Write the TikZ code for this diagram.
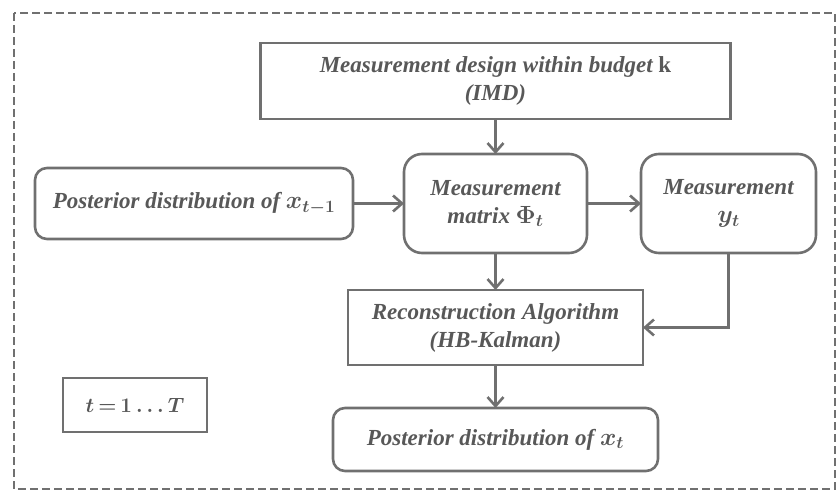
\documentclass[tikz,border=0pt]{standalone}
\usepackage{fontspec}
\setmainfont{Liberation Serif}
\usetikzlibrary{arrows.meta,positioning}
\definecolor{linegray}{RGB}{112,112,112}
\definecolor{textgray}{RGB}{88,88,88}

\begin{document}
\begin{tikzpicture}[x=1pt,y=-1pt]

\tikzset{block/.style={draw=linegray,line width=2.6pt,text=textgray,align=center,inner sep=0pt,outer sep=0pt,font=\fontsize{23}{28}\selectfont\bfseries\itshape\boldmath},
softblock/.style={block,rounded corners=12pt},
bigsoft/.style={block,rounded corners=18pt},
flow/.style={-{Straight Barb[length=9pt,width=16pt]},draw=linegray,line width=2.6pt},
frame/.style={draw=linegray,line width=1.6pt,dash pattern=on 8pt off 4pt}}

\useasboundingbox (0,0) rectangle (838,492);

% Outer loop frame
\draw[frame] (14,13) rectangle (835,489);

% Measurement stage
\node (phi) [bigsoft,minimum width=183pt,minimum height=99pt] at (495.5,203.5) {Measurement\\matrix $\Phi_t$};
\node (imd) [above=35pt of phi,block,minimum width=470pt,minimum height=76pt] {Measurement design within budget {\upshape k}\\(IMD)};
\node (prev) [left=51pt of phi,softblock,minimum width=318pt,minimum height=71pt] {Posterior distribution of $x_{t-1}$};
\node (meas) [right=54pt of phi,bigsoft,minimum width=175pt,minimum height=99pt] {Measurement\\$y_t$};

% Reconstruction stage
\node (recon) [below=37pt of phi,block,minimum width=295pt,minimum height=75pt] {Reconstruction Algorithm\\(HB-Kalman)};
\node (post) [below=43pt of recon,softblock,minimum width=325pt,minimum height=63pt] {Posterior distribution of $x_t$};

% Time index
\node (loop) [block,minimum width=144pt,minimum height=54pt,font={\fontsize{20}{24}\selectfont\boldmath}] at (135,405) {$t \,{=}\, 1 \ldots T$};

% Arrows
\draw[flow] (imd) -- (phi);
\draw[flow] (prev.east) -- (phi.west);
\draw[flow] (phi.east) -- (meas.west);
\draw[flow] (phi) -- (recon);
\draw[flow] (meas.south) |- (recon.east);
\draw[flow] (recon) -- (post);

\end{tikzpicture}
\end{document}
